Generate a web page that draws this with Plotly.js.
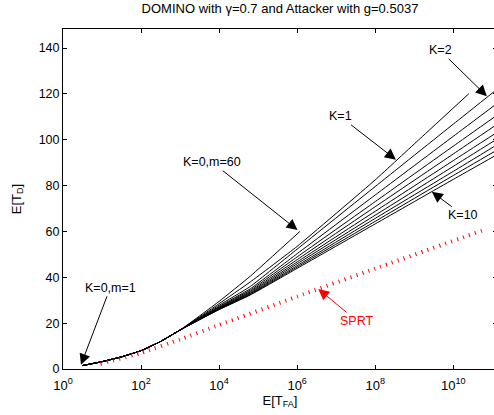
<!DOCTYPE html>
<html><head><meta charset="utf-8">
<script src="https://cdn.plot.ly/plotly-3.0.1.min.js"></script>
<style>html,body{margin:0;padding:0;overflow:hidden;background:#fff}</style>
</head><body><div id="chart" style="width:500px;height:415px"></div>
<script>
// shared start of all DOMINO curves (log10 E[T_FA], E[T_D])
const commonExp = [0.5, 1, 1.5, 2, 2.5, 3];
const commonTD  = [1.5, 3.2, 5.3, 8.0, 12.0, 17.0];

// K=0 (m = 1..60)
const k0Exp = [4, 4.8, 6.07];
const k0TD  = [29.5, 40.5, 60];
// K=1
const k1Exp = [4, 4.8, 6, 8, 9.15, 10.4];
const k1TD  = [28.5, 38, 53.5, 82.5, 100.5, 120.1];
// K=2..10
const tailExp = [4, 4.8, 6, 8, 10, 11.12];
const k2TD  = [27.8, 36.0, 52.3, 79.6, 106.8, 122.0];
const k3TD  = [27.3, 35.0, 50.3, 75.9, 101.5, 115.8];
const k4TD  = [27.0, 34.4, 48.9, 73.0, 97.2, 110.7];
const k5TD  = [26.7, 33.9, 47.7, 70.8, 93.8, 106.7];
const k6TD  = [26.5, 33.5, 46.7, 68.8, 90.9, 103.2];
const k7TD  = [26.3, 33.1, 45.9, 67.1, 88.4, 100.3];
const k8TD  = [26.1, 32.8, 45.1, 65.7, 86.2, 97.8];
const k9TD  = [26.0, 32.5, 44.5, 64.4, 84.4, 95.5];
const k10TD = [25.9, 32.3, 43.9, 63.3, 82.7, 93.5];

// SPRT
const sprtExp = [0.96, 2, 3, 4, 6, 8, 10.73];
const sprtTD  = [2.3, 7.0, 12.9, 19.2, 31.6, 43.8, 60.3];

const xTickExp = [0, 2, 4, 6, 8, 10];
const yTicks = [0, 20, 40, 60, 80, 100, 120, 140];

const toX = e => Math.pow(10, e);
const font = 'Liberation Sans, Arial, Helvetica, sans-serif';

function curve(name, exps, tds) {
  const ex = commonExp.concat(exps), ty = commonTD.concat(tds);
  return {x: ex.map(toX), y: ty, name: name, mode: 'lines', type: 'scatter',
    line: {color: '#000', width: 1, shape: 'spline', smoothing: 0.4}, hoverinfo: 'skip'};
}

const traces = [
  curve('K=0', k0Exp, k0TD),
  curve('K=1', k1Exp, k1TD),
  curve('K=2', tailExp, k2TD),
  curve('K=3', tailExp, k3TD),
  curve('K=4', tailExp, k4TD),
  curve('K=5', tailExp, k5TD),
  curve('K=6', tailExp, k6TD),
  curve('K=7', tailExp, k7TD),
  curve('K=8', tailExp, k8TD),
  curve('K=9', tailExp, k9TD),
  curve('K=10', tailExp, k10TD),
  {x: sprtExp.map(toX), y: sprtTD, name: 'SPRT', mode: 'lines', type: 'scatter',
   line: {color: '#ff0000', width: 4, dash: '1px,5.3px', shape: 'spline', smoothing: 0.4}, hoverinfo: 'skip'}
];

function ann(text, tx, ty, hx, hy, color) {
  return {x: hx, y: hy, ax: tx, ay: ty, xref: 'x', yref: 'y', axref: 'x', ayref: 'y',
    text: text, showarrow: true, arrowhead: 2, arrowsize: 2.2, arrowwidth: 1,
    arrowcolor: color, font: {family: font, size: 12.5, color: color}};
}

const layout = {
  width: 500, height: 415,
  margin: {l: 63, r: 3, t: 29, b: 46},
  paper_bgcolor: '#fff', plot_bgcolor: '#fff',
  showlegend: false,
  font: {family: font, size: 13, color: '#000'},
  title: {text: 'DOMINO with γ=0.7 and Attacker with g=0.5037', font: {family: font, size: 13, color: '#000'},
          xref: 'paper', x: 0.5, xanchor: 'center', y: 0.99, yanchor: 'top'},
  xaxis: {type: 'log', range: [0, 11.12], tickvals: xTickExp.map(toX),
          ticktext: xTickExp.map(e => '10<sup>' + e + '</sup>'),
          ticks: 'inside', ticklen: 4, tickcolor: '#000', mirror: 'allticks',
          showline: true, linecolor: '#000', linewidth: 1, showgrid: false, zeroline: false,
          ticklabelstandoff: 4,
          tickfont: {family: font, size: 13, color: '#000'},
          title: {text: 'E[T<sub>FA</sub>]', font: {family: font, size: 13, color: '#000'}, standoff: 2}},
  yaxis: {range: [0, 148.3], tickvals: yTicks,
          ticks: 'inside', ticklen: 4, tickcolor: '#000', mirror: 'allticks',
          showline: true, linecolor: '#000', linewidth: 1, showgrid: false, zeroline: false,
          tickfont: {family: font, size: 12.5, color: '#000'},
          title: {text: 'E[T<sub>D</sub>]', font: {family: font, size: 13, color: '#000'}, standoff: 14}},
  annotations: [
    ann('K=0,m=1', 1.21, 35.4, 0.46, 1.8, '#000'),
    ann('K=0,m=60', 3.82, 90.2, 6.01, 60.6, '#000'),
    ann('K=1', 7.10, 110.2, 8.53, 91.3, '#000'),
    ann('K=2', 9.66, 139, 10.86, 119, '#000'),
    ann('K=10', 10.25, 67.1, 9.45, 77.3, '#000'),
    ann('SPRT', 7.53, 21.0, 6.54, 34.9, '#ff0000')
  ]
};

Plotly.newPlot('chart', traces, layout, {staticPlot: true, displayModeBar: false});
</script></body></html>
